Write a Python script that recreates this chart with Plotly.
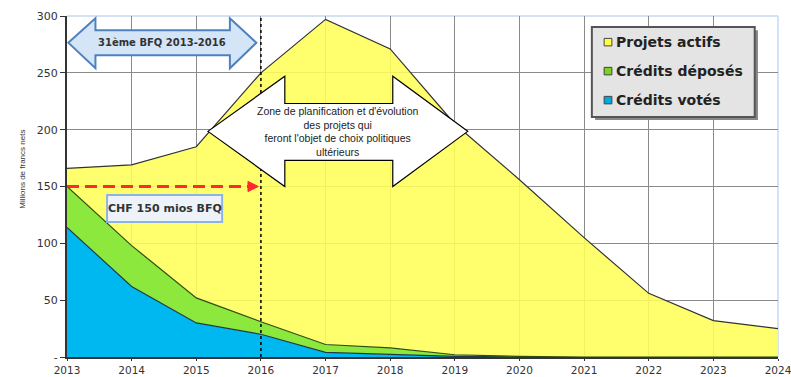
import plotly.graph_objects as go

years = [2013, 2014, 2015, 2016, 2017, 2018, 2019, 2020, 2021, 2022, 2023, 2024]
credits_votes = [114, 62, 30, 20, 4, 2, 0.5, 0, 0, 0, 0, 0]
credits_deposes = [36, 36, 22, 11, 7, 6, 1.5, 0.5, 0, 0, 0, 0]
projets_actifs = [16, 71, 133, 219, 286, 263, 203, 155.5, 105, 56, 32, 25]

series_names = ["Crédits votés", "Crédits déposés", "Projets actifs"]
y_ticks = [0, 50, 100, 150, 200, 250, 300]
y_ticklabels = ["-", "50", "100", "150", "200", "250", "300"]

fills = ["rgba(0,184,240,1)", "rgba(140,232,60,1)", "rgba(255,255,90,0.88)"]
edges = ["#1d3b48", "#2d4d12", "#333333"]

fig = go.Figure()
for name, vals, fc, ec in zip(series_names, [credits_votes, credits_deposes, projets_actifs], fills, edges):
    fig.add_trace(go.Scatter(x=years, y=vals, name=name, stackgroup="one", mode="lines",
                             line=dict(color=ec, width=1.2), fillcolor=fc, showlegend=False,
                             hoverinfo="x+y+name"))

shapes = []
shapes.append(dict(type="line", xref="paper", yref="paper", x0=0, x1=1, y0=1, y1=1,
                   line=dict(color="#c6d9f0", width=1.5), layer="below"))
shapes.append(dict(type="line", xref="paper", yref="paper", x0=1, x1=1, y0=0, y1=1,
                   line=dict(color="#c6d9f0", width=1.5), layer="below"))
shapes.append(dict(type="line", x0=2016, x1=2016, y0=0, y1=300,
                   line=dict(color="black", width=1.5, dash="dot")))
shapes.append(dict(type="line", x0=2013, x1=2015.8, y0=150, y1=150,
                   line=dict(color="#ff2a2a", width=3, dash="12px,6px")))
shapes.append(dict(type="path", path="M 2015.8,154.5 L 2015.96,150 L 2015.8,145.5 Z",
                   fillcolor="#ff2a2a", line=dict(color="#ff2a2a", width=1)))
shapes.append(dict(type="rect", x0=2013.62, x1=2015.40, y0=118.8, y1=142.5,
                   fillcolor="#eef3fa", line=dict(color="#8db3e2", width=2)))
bx0, bx1, bxs0, bxs1 = 2013.02, 2015.93, 2013.44, 2015.52
by_top, by_bot, bs_top, bs_bot, by_mid = 298, 254, 287.5, 265.5, 276.5
shapes.append(dict(type="path",
                   path=f"M {bx0},{by_mid} L {bxs0},{by_top} L {bxs0},{bs_top} L {bxs1},{bs_top} L {bxs1},{by_top} "
                        f"L {bx1},{by_mid} L {bxs1},{by_bot} L {bxs1},{bs_bot} L {bxs0},{bs_bot} L {bxs0},{by_bot} Z",
                   fillcolor="#d3e5f7", line=dict(color="#4f81bd", width=2)))
wx0, wx1, wxs0, wxs1 = 2015.18, 2019.20, 2016.37, 2018.04
wy_top, wy_bot, ws_top, ws_bot, wy_mid = 247, 150, 223, 173, 198.5
shapes.append(dict(type="path",
                   path=f"M {wx0},{wy_mid} L {wxs0},{wy_top} L {wxs0},{ws_top} L {wxs1},{ws_top} L {wxs1},{wy_top} "
                        f"L {wx1},{wy_mid} L {wxs1},{wy_bot} L {wxs1},{ws_bot} L {wxs0},{ws_bot} L {wxs0},{wy_bot} Z",
                   fillcolor="white", line=dict(color="black", width=1.2)))
shapes.append(dict(type="rect", x0=2021.17, x1=2023.69, y0=208.5, y1=287.5,
                   fillcolor="#888888", line=dict(width=0)))
shapes.append(dict(type="rect", x0=2021.12, x1=2023.64, y0=211.1, y1=290.3,
                   fillcolor="#e4e4e4", line=dict(color="#555555", width=2)))

annotations = []
leg_y = [277, 251.5, 226]
leg_names = ["Projets actifs", "Crédits déposés", "Crédits votés"]
leg_cols = ["#ffff40", "#7ed321", "#00a8e0"]
for yv, nm, col in zip(leg_y, leg_names, leg_cols):
    shapes.append(dict(type="rect", x0=2021.31, x1=2021.43, y0=yv - 3.3, y1=yv + 3.3,
                       fillcolor=col, line=dict(color="#444", width=1)))
    annotations.append(dict(x=2021.47, y=yv, text=f"<b>{nm}</b>", showarrow=False, xanchor="left",
                            font=dict(family="DejaVu Sans", size=14, color="#222")))

annotations.append(dict(x=2014.475, y=276.5, text="<b>31ème BFQ 2013-2016</b>", showarrow=False,
                        font=dict(family="DejaVu Sans", size=10, color="#333")))
annotations.append(dict(x=2014.51, y=130.6, text="<b>CHF 150 mios BFQ</b>", showarrow=False,
                        font=dict(family="DejaVu Sans", size=11, color="#333")))
annotations.append(dict(x=2017.2, y=198, text="Zone de planification et d'évolution<br>des projets qui<br>feront l'objet de choix politiques<br>ultérieurs",
                        showarrow=False, font=dict(family="Liberation Sans", size=10.5, color="#222")))
annotations.append(dict(xref="paper", yref="paper", x=-0.072, y=0.55, text="Millions de francs nets",
                        textangle=-90, showarrow=False, font=dict(family="Liberation Sans", size=8, color="#333")))

fig.update_layout(
    width=791, height=377,
    margin=dict(l=67, r=13, t=16, b=20),
    paper_bgcolor="white", plot_bgcolor="white",
    shapes=shapes, annotations=annotations,
    showlegend=False,
    xaxis=dict(range=[2013, 2024], tickvals=years, ticktext=[str(y) for y in years],
               showgrid=True, gridcolor="#8a8a8a", gridwidth=1, automargin=False,
               ticklabeloverflow="allow",
               showline=True, linecolor="#333", linewidth=2, ticks="outside", ticklen=2,
               tickcolor="#333", zeroline=False,
               tickfont=dict(family="DejaVu Sans", size=10.5, color="#333")),
    yaxis=dict(range=[0, 300], tickvals=y_ticks, ticktext=y_ticklabels,
               showgrid=True, gridcolor="#8a8a8a", gridwidth=1, automargin=False,
               showline=True, linecolor="#333", linewidth=2, ticks="outside", ticklen=5,
               tickcolor="#333", zeroline=False,
               tickfont=dict(family="DejaVu Sans", size=11, color="#333")),
)

fig.write_html("out.html")
